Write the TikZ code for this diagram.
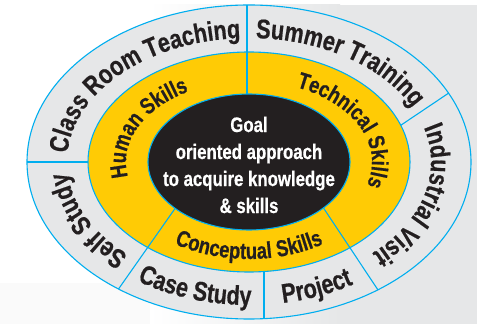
\documentclass[tikz,border=0pt]{standalone}
\usepackage{fontspec}
\setmainfont{Liberation Sans}[FakeStretch=0.8, BoldFeatures={FakeBold=0.6}]
\usepackage{tikz}
\usetikzlibrary{decorations.text}
\definecolor{ringcyan}{HTML}{00AEEF}
\definecolor{ringgray}{HTML}{E6E7E8}
\definecolor{ringyellow}{HTML}{FFCB05}
\definecolor{coreblack}{HTML}{231F20}
\newcommand{\outerfont}{\fontsize{27}{27}\selectfont\bfseries\color{coreblack}}
\newcommand{\innerfont}{\fontsize{23}{23}\selectfont\bfseries\color{coreblack}}

\begin{document}
\begin{tikzpicture}
                        [
                            x=1pt, y=1pt,
                            ring line/.style={draw=ringcyan, line width=1.1pt},
                            ring text/.style={decorate, decoration={text along path, text align=center, text={#1}}},
                            goal text/.style={align=center, text=white, font=\fontsize{21}{27}\selectfont\bfseries}
                        ]
                        \useasboundingbox (0,0) rectangle (477,324);
                        % background
                        \fill[white] (0,0) rectangle (477,324);
                        \shade[left color=white, right color=ringgray] (150,0) rectangle (340,319);
                        \fill[ringgray] (340,0) rectangle (477,319);
                        \fill[black!2] (0,0) rectangle (150,41);
                        \coordinate (C) at (249,162);
                        % three rings
                        \draw[ring line, fill=ringgray] (C) ellipse[x radius=222, y radius=157];
                        \draw[ring line, fill=ringyellow] (C) ellipse[x radius=161, y radius=110];
                        \draw[ring line, fill=coreblack] (C) ellipse[x radius=101, y radius=68];
                        % dividers
                        \coordinate (top out) at (247,319);
                        \coordinate (top in) at (247,230);
                        \coordinate (ur out) at ([shift={(C)}]26:222 and 157);
                        \coordinate (ur in) at ([shift={(C)}]19.5:161 and 110);
                        \coordinate (lr out) at ([shift={(C)}]-54.5:222 and 157);
                        \coordinate (lr in) at ([shift={(C)}]-42.5:101 and 68);
                        \coordinate (bt out) at (264,5.4);
                        \coordinate (bt in) at (264,52.5);
                        \coordinate (bl out) at ([shift={(C)}]-126:222 and 157);
                        \coordinate (bl in) at ([shift={(C)}]-137:101 and 68);
                        \coordinate (lf out) at (27,162);
                        \coordinate (lf in) at (88,162);
                        \foreach \p in {top,ur,lr,bt,bl,lf} \draw[ring line] (\p\space in) -- (\p\space out);
                        % outer ring labels
                        \path[ring text={|\outerfont|Class Room Teaching}] ([shift={(C)}]180:182 and 124) arc[start angle=180, end angle=90, x radius=182, y radius=124];
                        \path[ring text={|\outerfont|Summer Training}] ([shift={(C)}]90:182 and 124) arc[start angle=90, end angle=23, x radius=182, y radius=124];
                        \path[ring text={|\outerfont|Industrial Visit}] ([shift={(C)}]23:182 and 124) arc[start angle=23, end angle=-53, x radius=182, y radius=124];
                        \path[ring text={|\outerfont|Project}] ([shift={(C)}]-85.5:201 and 143) arc[start angle=-85.5, end angle=-53, x radius=201, y radius=143];
                        \path[ring text={|\outerfont|Case Study}] ([shift={(C)}]-128:201 and 143) arc[start angle=-128, end angle=-85.5, x radius=201, y radius=143];
                        \path[ring text={|\outerfont|Self Study}] ([shift={(C)}]-128:182 and 124) arc[start angle=-128, end angle=-180, x radius=182, y radius=124];
                        % inner ring labels
                        \path[ring text={|\innerfont|Human Skills}] ([shift={(C)}]227:123 and 81) arc[start angle=227, end angle=91, x radius=123, y radius=81];
                        \path[ring text={|\innerfont|Technical Skills}] ([shift={(C)}]91:123 and 81) arc[start angle=91, end angle=-47, x radius=123, y radius=81];
                        \path[ring text={|\innerfont|Conceptual Skills}] ([shift={(C)}]-133:139 and 97) arc[start angle=-133, end angle=-47, x radius=139, y radius=97];
                        \node[goal text] (goal) at (249,159) {Goal\\oriented approach\\to acquire knowledge\\\& skills};
                        \end{tikzpicture}
\end{document}
